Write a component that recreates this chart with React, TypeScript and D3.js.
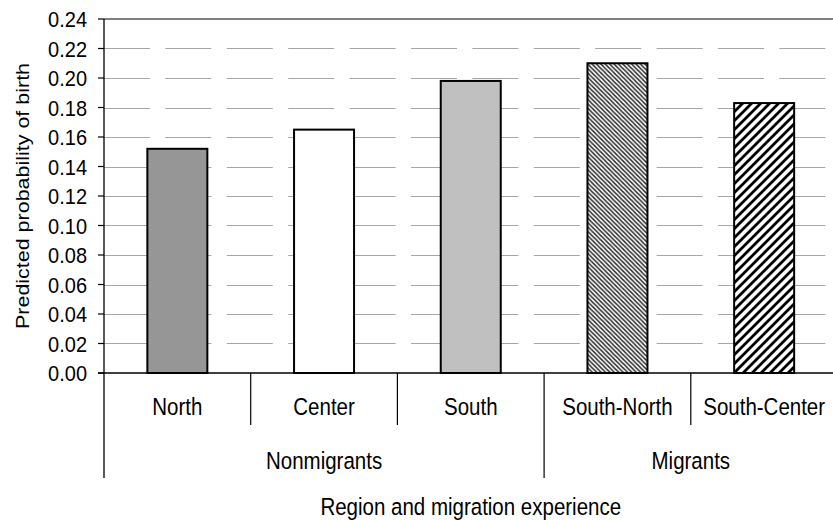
import React, { useEffect, useRef } from 'react';
import * as d3 from 'd3';

const categories = ['North', 'Center', 'South', 'South-North', 'South-Center'];
const values = [0.152, 0.165, 0.198, 0.21, 0.183];
const groups = ['Nonmigrants', 'Migrants'];
const groupSizes = [3, 2];
const yTicks = [0, 0.02, 0.04, 0.06, 0.08, 0.1, 0.12, 0.14, 0.16, 0.18, 0.2, 0.22, 0.24];
const fills = ['#969696', '#ffffff', '#c0c0c0', 'url(#hatchFine)', 'url(#hatchWide)'];

const WIDTH = 833;
const HEIGHT = 520;
const FONT = '"Liberation Sans", Arial, sans-serif';
const STRETCH = 1.13; // glyphs in the reference are a bit taller than wide

const App: React.FC = () => {
  const svgRef = useRef<SVGSVGElement>(null);

  useEffect(() => {
    if (!svgRef.current) return;
    const svg = d3.select(svgRef.current);
    svg.selectAll('*').remove();

    const left = 104;
    const right = 837.5;
    const top = 19;
    const bottom = 373;

    const x = d3.scaleBand<string>().domain(categories).range([left, right]).paddingInner(0);
    const y = d3.scaleLinear().domain([0, 0.24]).range([bottom, top]);
    const bw = x.bandwidth();
    const barW = bw * 0.409;

    const label = (
      parent: d3.Selection<any, any, any, any>,
      text: string,
      tx: number,
      ty: number,
      anchor: string,
      size: number
    ) =>
      parent.append('text')
        .text(text)
        .attr('transform', `translate(${tx},${ty}) scale(1,${STRETCH})`)
        .attr('dy', '0.36em')
        .attr('text-anchor', anchor)
        .attr('font-family', FONT)
        .attr('font-size', `${size}px`)
        .attr('fill', '#000');

    // Hatch patterns
    const defs = svg.append('defs');
    const p = 4.4;
    const fine = defs.append('pattern')
      .attr('id', 'hatchFine')
      .attr('patternUnits', 'userSpaceOnUse')
      .attr('width', p)
      .attr('height', p);
    fine.append('rect').attr('width', p).attr('height', p).attr('fill', '#fff');
    fine.append('path')
      .attr('d', `M${-p / 4},${(3 * p) / 4} L${p / 4},${(5 * p) / 4} M0,0 L${p},${p} M${(3 * p) / 4},${-p / 4} L${(5 * p) / 4},${p / 4}`)
      .attr('stroke', '#2e2e2e')
      .attr('stroke-width', 1.5);

    const q = 9;
    const wide = defs.append('pattern')
      .attr('id', 'hatchWide')
      .attr('patternUnits', 'userSpaceOnUse')
      .attr('width', q)
      .attr('height', q);
    wide.append('rect').attr('width', q).attr('height', q).attr('fill', '#fff');
    wide.append('path')
      .attr('d', `M${-q / 4},${q / 4} L${q / 4},${-q / 4} M0,${q} L${q},0 M${(3 * q) / 4},${(5 * q) / 4} L${(5 * q) / 4},${(3 * q) / 4}`)
      .attr('stroke', '#000')
      .attr('stroke-width', 2.8);

    // Gridlines
    svg.append('g')
      .selectAll('line')
      .data(yTicks.filter(t => t > 0 && t < 0.24))
      .enter()
      .append('line')
      .attr('x1', left)
      .attr('x2', WIDTH)
      .attr('y1', d => Math.round(y(d)) + 0.5)
      .attr('y2', d => Math.round(y(d)) + 0.5)
      .attr('stroke', '#a6a6a6')
      .attr('stroke-width', 1.1)
      .attr('stroke-dasharray', '46 15.4');

    // Top border
    svg.append('line')
      .attr('x1', left).attr('x2', WIDTH)
      .attr('y1', top).attr('y2', top)
      .attr('stroke', '#808080')
      .attr('stroke-width', 2);

    // Bars
    svg.append('g')
      .selectAll('rect')
      .data(values)
      .enter()
      .append('rect')
      .attr('x', (_, i) => (x(categories[i]) as number) + bw / 2 - barW / 2)
      .attr('y', d => y(d))
      .attr('width', barW)
      .attr('height', d => bottom - y(d))
      .attr('fill', (_, i) => fills[i])
      .attr('stroke', '#000')
      .attr('stroke-width', 2);

    // Y axis
    const yAxis = svg.append('g');
    yAxis.append('line')
      .attr('x1', left).attr('x2', left)
      .attr('y1', top).attr('y2', 478)
      .attr('stroke', '#000')
      .attr('stroke-width', 1.3);
    yAxis.selectAll('line.tick')
      .data(yTicks)
      .enter()
      .append('line')
      .attr('class', 'tick')
      .attr('x1', left - 6).attr('x2', left)
      .attr('y1', d => y(d)).attr('y2', d => y(d))
      .attr('stroke', '#000')
      .attr('stroke-width', 1.2);
    yTicks.forEach(t => label(yAxis, d3.format('.2f')(t), 87, y(t), 'end', 20));

    svg.append('text')
      .text('Predicted probability of birth')
      .attr('transform', `translate(22, ${(top + bottom) / 2}) rotate(-90) scale(${STRETCH},1)`)
      .attr('dy', '0.36em')
      .attr('text-anchor', 'middle')
      .attr('font-family', FONT)
      .attr('font-size', '19px')
      .attr('fill', '#000');

    // X axis
    const xAxis = svg.append('g');
    xAxis.append('line')
      .attr('x1', left - 6).attr('x2', WIDTH)
      .attr('y1', bottom).attr('y2', bottom)
      .attr('stroke', '#000')
      .attr('stroke-width', 1.5);

    let cum = 0;
    const groupEdges = groupSizes.map(s => (cum += s));
    categories.forEach((c, i) => {
      if (i === 0) return;
      const isGroupEdge = groupEdges.includes(i);
      xAxis.append('line')
        .attr('x1', x(c) as number).attr('x2', x(c) as number)
        .attr('y1', bottom).attr('y2', isGroupEdge ? 478 : 425)
        .attr('stroke', '#000')
        .attr('stroke-width', 1.2);
    });

    categories.forEach(c => label(xAxis, c, (x(c) as number) + bw / 2, 407, 'middle', 20.5));

    let start = 0;
    groups.forEach((g, gi) => {
      const first = categories[start];
      const last = categories[start + groupSizes[gi] - 1];
      const cx = ((x(first) as number) + (x(last) as number) + bw) / 2;
      label(xAxis, g, cx, 461, 'middle', 20.5);
      start += groupSizes[gi];
    });

    label(svg, 'Region and migration experience', (left + right) / 2, 507, 'middle', 20.5);
  }, []);

  return (
    <svg
      ref={svgRef}
      width={WIDTH}
      height={HEIGHT}
      style={{ position: 'absolute', left: 0, top: 0, background: '#fff' }}
    />
  );
};

export default App;
